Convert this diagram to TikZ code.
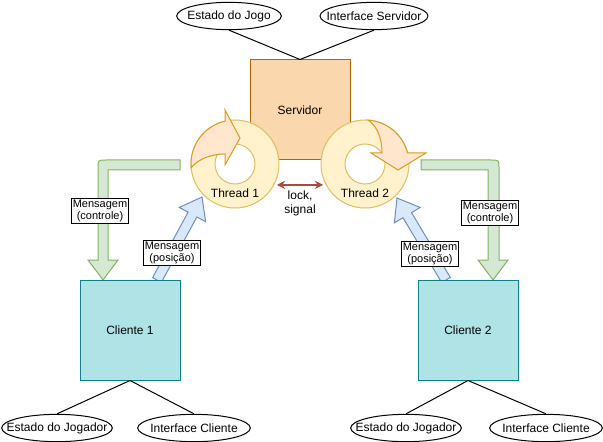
\documentclass[tikz,border=0pt]{standalone}
\usepackage{fontspec}
\setmainfont{Liberation Sans}
\usetikzlibrary{shapes.geometric,arrows.meta,calc}

\definecolor{srvfill}{HTML}{FAD7AC}
\definecolor{srvline}{HTML}{B46504}
\definecolor{clifill}{HTML}{B0E3E6}
\definecolor{cliline}{HTML}{0E8088}
\definecolor{ringfill}{HTML}{FFF2CC}
\definecolor{ringline}{HTML}{E0BE5E}
\definecolor{turnfill}{HTML}{FFE6CC}
\definecolor{turnline}{HTML}{D99C1C}
\definecolor{ctrlfill}{HTML}{D5E8D4}
\definecolor{ctrlline}{HTML}{82B366}
\definecolor{posfill}{HTML}{DAE8FC}
\definecolor{posline}{HTML}{6C8EBF}
\definecolor{lockred}{HTML}{B0473C}

\tikzset{
  box/.style={draw, minimum width=75pt, minimum height=75pt, inner sep=0pt, font=\fontsize{9}{11}\selectfont},
  part/.style={ellipse, draw, inner sep=0pt, minimum height=20.5pt, font=\fontsize{9}{11}\selectfont},
  ring/.style={circle, draw=ringline, fill=ringfill, minimum size=66pt, inner sep=0pt},
  msg/.style={draw, fill=white, align=center, inner sep=0.8pt, font=\fontsize{8.25}{9.4}\selectfont},
  lbl/.style={align=center, inner sep=0pt, font=\fontsize{9}{10.5}\selectfont},
  lockarrow/.style={draw=lockred, line width=1.1pt, {Stealth[length=6pt,width=6pt]}-{Stealth[length=6pt,width=6pt]}, shorten <=2pt, shorten >=2pt},
}

% broad arrow from #1 to #2
\newcommand{\posarrow}[2]{%
  \coordinate (#1h) at ($(#2)!15pt!(#1)$);
  \filldraw[draw=posline, fill=posfill]
    ($(#1)!3.75pt!90:(#2)$) -- ($(#1h)!3.75pt!-90:(#1)$) -- ($(#1h)!11.25pt!-90:(#1)$) -- (#2)
    -- ($(#1h)!11.25pt!90:(#1)$) -- ($(#1h)!3.75pt!90:(#1)$) -- ($(#1)!3.75pt!-90:(#2)$) -- cycle;
}

\begin{document}
\begin{tikzpicture}[x=0.75pt, y=-0.75pt, line width=0.75pt]
\useasboundingbox (0,0) rectangle (603,442);

% server and its parts
\node[part, minimum width=78.5pt] (ejogo) at (229,16) {\makebox[0pt]{Estado do Jogo}};
\node[part, minimum width=81pt] (iserv) at (374,16) {\makebox[0pt]{Interface Servidor}};
\node[box, draw=srvline, fill=srvfill] (srv) at (300,110) {Servidor};
\draw (ejogo.south) -- (srv.north);
\draw (iserv.south) -- (srv.north);

% threads
\node[ring] (t1) at (235,164) {};
\draw[draw=ringline, fill=white] (t1.center) circle[radius=20];
\filldraw[draw=turnline, fill=turnfill]
  ([shift={(t1.center)}]175:44) arc[start angle=175, end angle=257, radius=44]
  -- (225,110) -- (240,138) -- (225,165) -- (225,154)
  .. controls (210,154) and (197,160) .. cycle;
\node[lbl] (t1lbl) at (235,193) {Thread 1};

\node[ring] (t2) at (365,164) {};
\draw[draw=ringline, fill=white] (t2.center) circle[radius=20];
\filldraw[draw=turnline, fill=turnfill]
  ([shift={(t2.center)}]274:44) arc[start angle=274, end angle=345.5, radius=44]
  -- (426,153) -- (398,170) -- (371,153) -- (382,153)
  .. controls (382,138) and (377,126) .. cycle;
\node[lbl] (t2lbl) at (365,193) {Thread 2};

\draw[lockarrow] (t1.-28) -- (t2.208);
\node[lbl] (lock) at (300,203) {lock,\\signal};

% messages
\filldraw[draw=ctrlline, fill=ctrlfill]
  (180,160) -- (106,160) .. controls (98,160) .. (98,168) -- (98,260) -- (88,260)
  -- (103,280) -- (118,260) -- (108,260) -- (108,170) -- (180,170) -- cycle;
\filldraw[draw=ctrlline, fill=ctrlfill]
  (421,160) -- (491,160) .. controls (499,160) .. (499,168) -- (499,260) -- (508,260)
  -- (493,280) -- (478,260) -- (488,260) -- (488,170) -- (421,170) -- cycle;

\coordinate (pos1a) at (157,280);
\coordinate (pos1b) at (202,197);
\posarrow{pos1a}{pos1b}
\coordinate (pos2a) at (446,280);
\coordinate (pos2b) at (397,198);
\posarrow{pos2a}{pos2b}

\node[msg] (m1) at (100,211) {Mensagem\\(controle)};
\node[msg] (m2) at (490,213) {Mensagem\\(controle)};
\node[msg] (m3) at (172,253) {Mensagem\\(posição)};
\node[msg] (m4) at (430,254) {Mensagem\\(posição)};

% clients and their parts
\node[box, draw=cliline, fill=clifill] (c1) at (130,330) {Cliente 1};
\node[box, draw=cliline, fill=clifill] (c2) at (468,330) {Cliente 2};

\node[part, minimum width=83pt] (ejog1) at (57,428) {\makebox[0pt]{Estado do Jogador}};
\node[part, minimum width=84.5pt] (icli1) at (194,428) {\makebox[0pt]{Interface Cliente}};
\node[part, minimum width=83pt] (ejog2) at (406,428) {\makebox[0pt]{Estado do Jogador}};
\node[part, minimum width=84.5pt] (icli2) at (546,428) {\makebox[0pt]{Interface Cliente}};

\draw (c1.south) -- (ejog1.north);
\draw (c1.south) -- (icli1.north);
\draw (c2.south) -- (ejog2.north);
\draw (c2.south) -- (icli2.north);

\end{tikzpicture}
\end{document}
